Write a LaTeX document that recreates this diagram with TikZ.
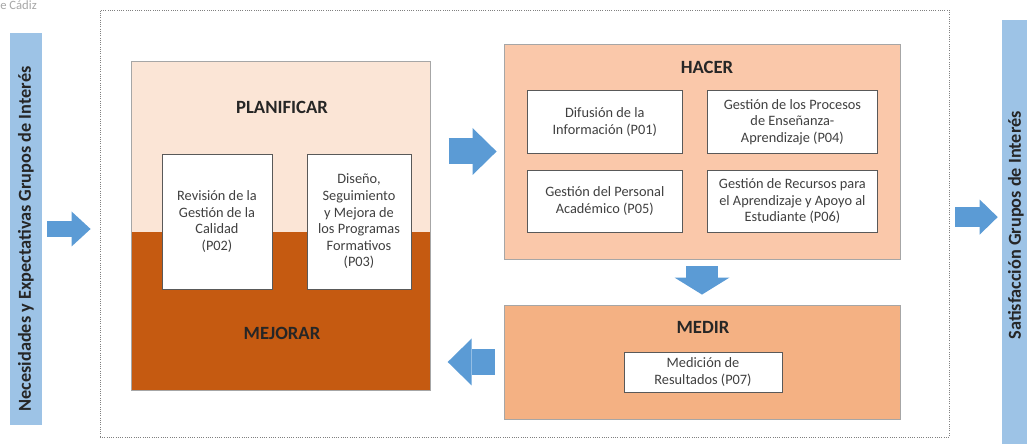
\documentclass[tikz,border=0pt]{standalone}
\usepackage{fontspec}
\setmainfont{Carlito}
\usepackage{tikz}
\usetikzlibrary{fit}
\usetikzlibrary{arrows.meta}
\usepackage{color}
\definecolor{side-blue}{RGB}{157,195,230}
\definecolor{arrow-blue}{RGB}{91,155,213}
\definecolor{plan-light}{RGB}{251,229,214}
\definecolor{mej-dark}{RGB}{197,90,17}
\definecolor{hacer-fill}{RGB}{250,200,170}
\definecolor{medir-fill}{RGB}{244,177,131}
\definecolor{box-line}{RGB}{89,89,89}
\definecolor{box-text}{RGB}{64,64,64}
\definecolor{phase-line}{RGB}{166,166,166}
\definecolor{frame-grey}{RGB}{128,128,128}

\begin{document}
\begin{tikzpicture}[
    procbox/.style={draw=box-line, fill=white, line width=0.6pt, align=center, inner sep=0pt, text=box-text, font=\fontsize{10.2}{11.8}\selectfont},
    phase/.style={draw=phase-line, line width=0.6pt, inner sep=0pt},
    phasetitle/.style={inner sep=0pt, text=black!85, font=\bfseries\fontsize{13.3}{16}\selectfont},
    sidebar/.style={fill=side-blue, inner sep=0pt},
    blockarrow/.style n args={3}{draw=arrow-blue, line width=#1, -{Triangle[length=#2, width=#3, line width=0pt]}}
  ]
    \useasboundingbox (0,0) rectangle (25.675,11.15);

    \node[anchor=west, inner sep=0pt, text=black!35, font=\fontsize{9}{10}\selectfont] (uca) at (0.0, 11.03) {e Cádiz};

    \node[draw=frame-grey, densely dotted, line width=0.6pt, minimum width=21.225cm, minimum height=10.675cm] (frame) at (13.1125, 5.5625) {};

    \node[sidebar, minimum width=0.80cm, minimum height=9.80cm, label={[black!85, rotate=90, xshift=-0.25cm, font=\bfseries\fontsize{13}{15}\selectfont]center:Necesidades y Expectativas Grupos de Interés}] (leftbar)  at (0.65, 5.425) {};
    \node[sidebar, minimum width=0.70cm, minimum height=10.60cm, label={[black!85, rotate=90, xshift=0.17cm, font=\bfseries\fontsize{13}{15}\selectfont]center:Satisfacción Grupos de Interés}] (rightbar) at (25.40, 5.35) {};

    \node[fill=plan-light, minimum width=7.45cm, minimum height=4.25cm, inner sep=0pt] (plan) at (7.025, 7.475) {};
    \node[fill=mej-dark,   minimum width=7.45cm, minimum height=3.95cm, inner sep=0pt] (mej)  at (7.025, 3.375) {};
    \node[phase, fit=(plan) (mej)] (planfr) {};

    \node[phasetitle] (planificar) at (7.05, 8.475) {PLANIFICAR};
    \node[phasetitle] (mejorar)    at (7.05, 2.825) {MEJORAR};

    \node[procbox, minimum width=2.75cm, minimum height=3.375cm] (p02) at (5.425, 5.6125) {Revisión de la\\Gestión de la\\Calidad\\(P02)};
    \node[procbox, minimum width=2.60cm, minimum height=3.375cm] (p03) at (8.975, 5.6125) {Diseño,\\Seguimiento\\y Mejora de\\los Programas\\Formativos\\(P03)};

    \node[phase, fill=hacer-fill, minimum width=9.90cm, minimum height=5.375cm] (hacer) at (17.55, 7.3625) {};
    \node[phasetitle] (hacertitle) at (17.675, 9.475) {HACER};

    \node[procbox, minimum width=3.87cm, minimum height=1.56cm] (p01) at (15.12, 8.10) {Difusión de la\\Información (P01)};
    \node[procbox, minimum width=4.27cm, minimum height=1.56cm] (p04) at (19.81, 8.10) {Gestión de los Procesos\\de Enseñanza-\\Aprendizaje (P04)};
    \node[procbox, minimum width=3.87cm, minimum height=1.56cm] (p05) at (15.12, 6.12) {Gestión del Personal\\Académico (P05)};
    \node[procbox, minimum width=4.27cm, minimum height=1.56cm] (p06) at (19.81, 6.12) {Gestión de Recursos para\\el Aprendizaje y Apoyo al\\Estudiante (P06)};

    \node[phase, fill=medir-fill, minimum width=9.90cm, minimum height=2.85cm] (medir) at (17.55, 2.10) {};
    \node[phasetitle] (medirtitle) at (17.575, 2.975) {MEDIR};

    \node[procbox, minimum width=3.95cm, minimum height=1.00cm] (p07) at (17.575, 1.85) {Medición de\\Resultados (P07)};

    \draw[blockarrow={0.40cm}{0.475cm}{0.875cm}, shorten <=0.125cm, shorten >=0.225cm] (leftbar.east) -- (leftbar.east -| frame.west);
    \draw[blockarrow={0.65cm}{0.60cm}{1.175cm}, shorten <=0.45cm, shorten >=0.175cm] (planfr.east |- hacer.west) -- (hacer.west);
    \draw[blockarrow={0.80cm}{0.425cm}{1.375cm}, shorten <=0.175cm, shorten >=0.25cm] (hacer.south) -- (hacer.south |- medir.north);
    \draw[blockarrow={0.65cm}{0.60cm}{1.175cm}, shorten <=0.225cm, shorten >=0.425cm] (medir.west) -- (medir.west -| planfr.east);
    \draw[blockarrow={0.50cm}{0.45cm}{0.875cm}, shorten <=0.15cm, shorten >=0.10cm] ([yshift=0.16cm]frame.east) -- ([yshift=0.16cm]frame.east -| rightbar.west);
  \end{tikzpicture}
\end{document}
